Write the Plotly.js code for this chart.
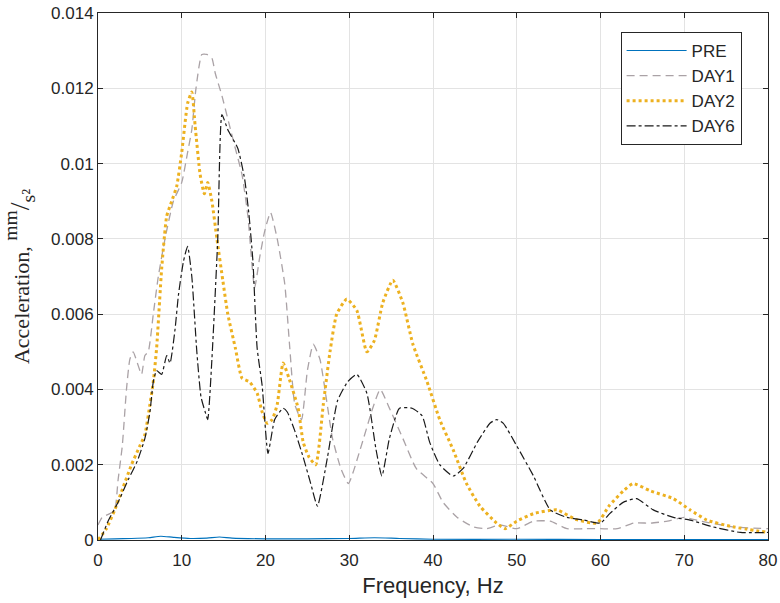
<!DOCTYPE html>
<html>
<head>
<meta charset="utf-8">
<script src="https://cdn.plot.ly/plotly-3.0.1.min.js"></script>
<style>html,body{margin:0;padding:0;background:#fff;}#chart{width:780px;height:603px;}</style>
</head>
<body>
<div id="chart"></div>
<script>
// ---- data ----
const seriesNames = ["PRE", "DAY1", "DAY2", "DAY6"];

const preFreq = [0, 2, 4, 6, 7.5, 9, 11, 13, 14.5, 16, 20, 25, 30, 33, 36, 40, 50, 60, 70, 80];
const preAcc  = [0.00002, 0.00003, 0.00004, 0.00006, 0.0001, 0.00007, 0.00004, 0.00005, 0.00008, 0.00005,
                 0.00003, 0.00003, 0.00004, 0.00006, 0.00004, 0.00002, 0.00002, 0.00001, 0.00001, 0.00001];

const day1Freq = [0, 0.5, 1.4, 2, 2.4, 2.9, 3.4, 3.8, 4.2, 4.7, 5.2, 5.6, 6, 6.6, 7.2, 8, 9, 10, 10.7, 11.2,
                  11.7, 12.4, 13, 13.6, 14, 14.8, 15.6, 16.4, 17.2, 17.9, 18.7, 19.3, 19.9, 20.6, 21.4, 22.3,
                  22.9, 23.5, 24.3, 25, 25.7, 26.5, 27.3, 28, 29, 29.9, 31.3, 32.8, 33.7, 34.8, 36.4, 38, 40,
                  41.2, 42.9, 44.8, 46.4, 48, 50, 52, 54, 56, 58, 60, 62, 64, 66, 68, 70, 72, 75.8, 80];
const day1Acc  = [0.0004, 0.0006, 0.0007, 0.0008, 0.0016, 0.0025, 0.0040, 0.0048, 0.0050, 0.0047, 0.0044,
                  0.0049, 0.0050, 0.0060, 0.0070, 0.0080, 0.0090, 0.0095, 0.0103, 0.0109, 0.0120, 0.0129,
                  0.0129, 0.0128, 0.0124, 0.0118, 0.0111, 0.0104, 0.0097, 0.0086, 0.0067, 0.0075, 0.0082,
                  0.0087, 0.0080, 0.0068, 0.0051, 0.0036, 0.0032, 0.0045, 0.0052, 0.0048, 0.0037, 0.0027,
                  0.0019, 0.0015, 0.0024, 0.0035, 0.0040, 0.0035, 0.0027, 0.0019, 0.0015, 0.0010, 0.0006,
                  0.00035, 0.0003, 0.0004, 0.0003, 0.0005, 0.0005, 0.0003, 0.0003, 0.0003, 0.0003, 0.00045,
                  0.00045, 0.0005, 0.0006, 0.0005, 0.00035, 0.0003];

const day2Freq = [0, 1, 2, 3, 4, 5, 5.6, 6.2, 6.6, 7, 7.6, 8.2, 8.8, 9.4, 10, 10.7, 11.2, 11.6, 12.2, 12.7,
                  13.1, 13.6, 14.2, 14.9, 15.5, 16.4, 17.2, 18.1, 19, 19.6, 20.2, 20.8, 21.4, 22.1, 22.8,
                  23.9, 24.5, 25.2, 26, 26.9, 27.7, 28.5, 29.7, 30.9, 32.1, 33, 34, 35.2, 36.4, 37.6, 39.3,
                  40.8, 42.4, 44, 45.6, 47.6, 48.6, 50, 52, 54.8, 57, 59.6, 61, 62.7, 63.9, 66, 68.7, 70.7,
                  72.7, 75.8, 80];
const day2Acc  = [0, 0.0003, 0.0008, 0.0014, 0.0020, 0.0025, 0.0028, 0.0036, 0.0042, 0.0051, 0.0072, 0.0086,
                  0.0090, 0.0094, 0.0103, 0.0116, 0.0119, 0.0110, 0.0097, 0.0092, 0.0095, 0.0090, 0.0080,
                  0.0069, 0.0060, 0.0051, 0.0043, 0.0042, 0.0039, 0.0034, 0.0031, 0.0032, 0.0036, 0.0047,
                  0.0043, 0.0035, 0.0026, 0.0022, 0.0020, 0.0036, 0.0050, 0.0060, 0.0064, 0.0061, 0.0050,
                  0.0053, 0.0063, 0.0069, 0.0063, 0.0052, 0.0042, 0.0032, 0.0024, 0.0015, 0.0009, 0.00045,
                  0.0003, 0.0005, 0.0007, 0.0008, 0.00055, 0.00045, 0.0009, 0.0013, 0.0015, 0.0013, 0.0011,
                  0.0008, 0.00053, 0.00035, 0.0002];

const day6Freq = [0.3, 1.2, 2.4, 3.6, 4.7, 5.6, 6.2, 6.6, 7, 7.6, 8.2, 8.6, 9.2, 9.6, 10.2, 10.7, 11.2, 11.8,
                  12.3, 12.8, 13.1, 13.6, 14.3, 14.8, 15.5, 16.7, 17.5, 18, 18.5, 19, 19.6, 20.3, 21.1, 22.1,
                  22.6, 23.5, 24.5, 25.4, 26.2, 27.4, 28.6, 29.8, 30.9, 32.1, 33.2, 33.9, 34.8, 36, 37.5,
                  38.7, 39.6, 40.8, 42.4, 43.6, 45.3, 46.8, 47.6, 48.4, 50, 52, 54, 56, 58, 60, 61.1, 62.7,
                  64.3, 66.3, 68.7, 70.7, 73.4, 76.7, 80];
const day6Acc  = [0, 0.0005, 0.0010, 0.0016, 0.0021, 0.0027, 0.0034, 0.0042, 0.0045, 0.0044, 0.0049, 0.0047,
                  0.0056, 0.0065, 0.0074, 0.0078, 0.0070, 0.0050, 0.0038, 0.0034, 0.0032, 0.0048, 0.0080,
                  0.0113, 0.0109, 0.0104, 0.0096, 0.0087, 0.0074, 0.0051, 0.0041, 0.0023, 0.0032, 0.0035,
                  0.0034, 0.0029, 0.0022, 0.0015, 0.0009, 0.0022, 0.0037, 0.0042, 0.0044, 0.0039, 0.0024,
                  0.0017, 0.0027, 0.0035, 0.0035, 0.0033, 0.0026, 0.0020, 0.0017, 0.0019, 0.0026, 0.0031,
                  0.0032, 0.0031, 0.0025, 0.0017, 0.0008, 0.0006, 0.00053, 0.00045, 0.0007, 0.0010, 0.0011,
                  0.0008, 0.0006, 0.00053, 0.00035, 0.0002, 0.0002];

const xTickVals = [0, 10, 20, 30, 40, 50, 60, 70, 80];
const yTickVals = [0, 0.002, 0.004, 0.006, 0.008, 0.01, 0.012, 0.014];
const yTickText = ["0", "0.002", "0.004", "0.006", "0.008", "0.01", "0.012", "0.014"];

// ---- traces ----
const traces = [
  {x: preFreq,  y: preAcc,  name: seriesNames[0], mode: "lines",
   line: {color: "#0072BD", width: 1.2, shape: "spline", smoothing: 0.6}},
  {x: day1Freq, y: day1Acc, name: seriesNames[1], mode: "lines",
   line: {color: "#aaa2a6", width: 1.3, dash: "8px,5px", shape: "spline", smoothing: 0.5}},
  {x: day2Freq, y: day2Acc, name: seriesNames[2], mode: "lines",
   line: {color: "#EDB120", width: 3, dash: "dot", shape: "spline", smoothing: 0.5}},
  {x: day6Freq, y: day6Acc, name: seriesNames[3], mode: "lines",
   line: {color: "#1a1a1a", width: 1.2, dash: "dashdot", shape: "spline", smoothing: 0.5}}
];

const axisCommon = {
  showline: true, linecolor: "#262626", linewidth: 1, mirror: "ticks",
  ticks: "inside", ticklen: 5, tickcolor: "#262626",
  showgrid: true, gridcolor: "#e3e3e3", gridwidth: 1, zeroline: false,
  tickfont: {family: "Liberation Sans, Arial, sans-serif", size: 17, color: "#262626"}
};

const layout = {
  width: 780, height: 603,
  paper_bgcolor: "#ffffff", plot_bgcolor: "#ffffff",
  margin: {l: 98, r: 12, t: 13, b: 63},
  showlegend: true,
  xaxis: Object.assign({}, axisCommon, {
    range: [0, 80], tickvals: xTickVals, ticktext: xTickVals.map(String),
    ticklabelstandoff: 5,
    title: {text: "Frequency, Hz", standoff: 8,
            font: {family: "Liberation Sans, Arial, sans-serif", size: 22, color: "#262626"}}
  }),
  yaxis: Object.assign({}, axisCommon, {
    range: [0, 0.014], tickvals: yTickVals, ticktext: yTickText,
    title: {text: "Acceleration, <span style=\"font-size:28px\"><sup>mm</sup>/<sub>s²</sub></span>", standoff: 16,
            font: {family: "Liberation Serif, Times New Roman, serif", size: 22, color: "#262626"}}
  }),
  legend: {
    x: 0.78, y: 0.964, xanchor: "left", yanchor: "top",
    bgcolor: "#ffffff", bordercolor: "#262626", borderwidth: 1,
    itemwidth: 60, tracegroupgap: 0,
    font: {family: "Liberation Sans, Arial, sans-serif", size: 17, color: "#262626"}
  }
};

Plotly.newPlot("chart", traces, layout, {displayModeBar: false, staticPlot: true});
</script>
</body>
</html>
